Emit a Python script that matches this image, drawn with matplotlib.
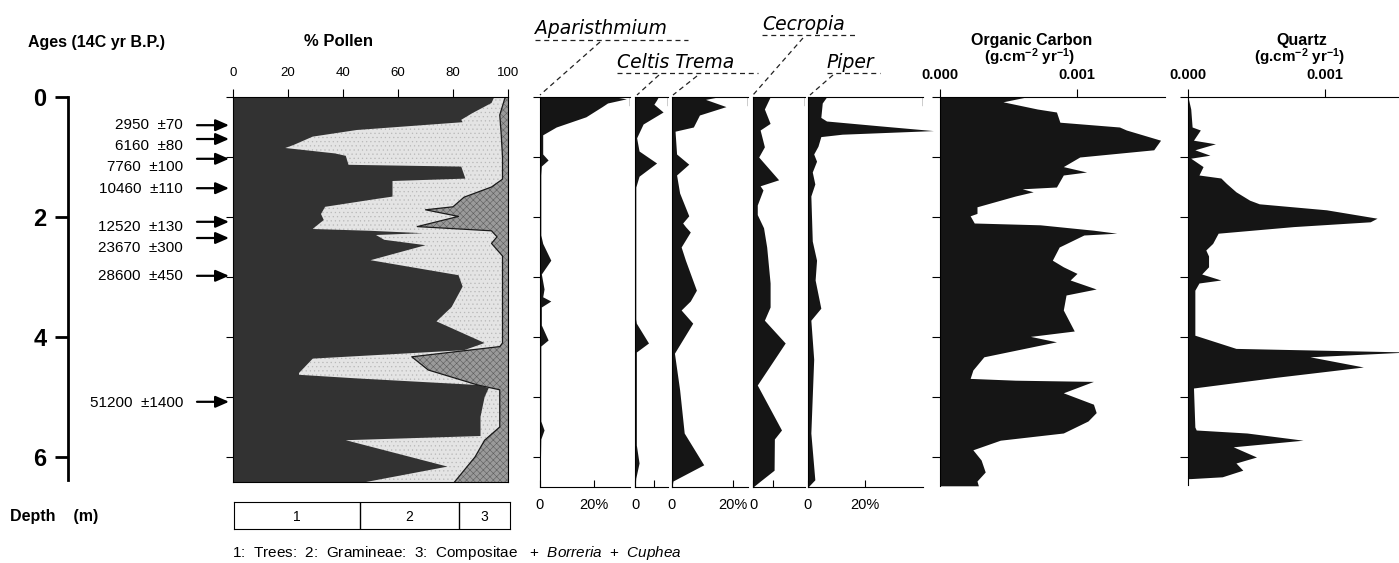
import matplotlib
matplotlib.use("Agg")
import matplotlib.pyplot as plt
from matplotlib.lines import Line2D
from matplotlib.ticker import FuncFormatter

plt.rcParams["font.family"] = ["Liberation Sans", "DejaVu Sans"]
plt.rcParams["mathtext.fontset"] = "custom"
plt.rcParams["mathtext.rm"] = "Liberation Sans:bold"
plt.rcParams["mathtext.it"] = "Liberation Sans:italic"
plt.rcParams["hatch.linewidth"] = 0.4

# ---- data ----
depth_ticks = [0, 2, 4, 6]
meter_ticks = [0, 1, 2, 3, 4, 5, 6]

age_labels = ["2950  ±70", "6160  ±80", "7760  ±100", "10460  ±110",
              "12520  ±130", "23670  ±300", "28600  ±450", "51200  ±1400"]
age_label_depth = [0.47, 0.82, 1.16, 1.53, 2.16, 2.52, 2.99, 5.1]
age_arrow_depth = [0.47, 0.7, 1.03, 1.52, 2.08, 2.35, 2.98, 5.08]

pollen_ticks = [0, 20, 40, 60, 80, 100]

# cumulative pollen %: trees, trees + gramineae (rest up to 100 = compositae etc.)
tree_depth = [0.0, 0.1, 0.27, 0.38, 0.42, 0.55, 0.66, 0.8, 0.85, 0.94, 0.98, 1.13,
              1.16, 1.36, 1.4, 1.66, 1.7, 1.83, 1.95, 2.05, 2.16, 2.2, 2.23, 2.27,
              2.3, 2.38, 2.47, 2.72, 2.97, 3.16, 3.5, 3.74, 4.1, 4.22, 4.36, 4.6,
              4.63, 4.69, 4.8, 4.85, 5.0, 5.33, 5.65, 5.72, 6.16, 6.42]
tree_pct = [95, 94, 87, 83, 83.5, 45, 29, 22, 19, 37, 41, 42,
            83, 84.5, 58, 58, 52, 33.5, 32, 33, 30, 29, 50, 69,
            52, 55, 70, 50, 82, 83.5, 79.5, 74, 91.5, 84, 29, 24,
            24, 45, 89, 93, 91.5, 90, 90, 41, 78, 48]
tg_depth = [0.0, 0.3, 0.6, 1.0, 1.37, 1.5, 1.67, 1.83, 1.88, 1.99, 2.16, 2.23, 2.33,
            2.44, 2.65, 4.1, 4.16, 4.33, 4.55, 4.8, 4.88, 5.5, 5.72, 6.0, 6.42]
tg_pct = [99, 97, 97.5, 98, 98, 94, 84, 80, 70, 82, 67, 94, 96,
          94, 98, 98, 97, 65, 71, 89, 97, 97, 91.5, 88, 80.5]

legend_keys = ["1", "2", "3"]
legend_bounds = [0, 45.5, 81.5, 100]

apar_depth = [0.0, 0.03, 0.1, 0.16, 0.33, 0.5, 0.63, 0.83, 0.95, 1.05, 1.15, 1.3, 2.3,
              2.44, 2.72, 2.95, 3.2, 3.33, 3.4, 3.5, 3.8, 4.05, 4.15, 5.4, 5.55, 5.7, 6.5]
apar_pct = [28, 32, 25, 23, 17, 6, 1, 1, 1, 3, 0.5, 0.3, 0.3,
            1, 4, 0.5, 1.5, 1, 4, 0.5, 0.5, 3, 0.3, 0.3, 1.5, 0.3, 0]

celtis_depth = [0.0, 0.05, 0.12, 0.25, 0.45, 0.68, 0.9, 1.1, 1.32, 1.5, 3.7, 3.77,
                4.1, 4.25, 5.8, 6.1, 6.35, 6.5]
celtis_pct = [8.6, 8, 7, 10.4, 3, 0.6, 1.5, 8, 1.5, 0.3, 0.3, 0.5,
              5, 0.5, 0.5, 1.5, 0.3, 0]

trema_depth = [0.0, 0.04, 0.16, 0.3, 0.5, 0.57, 0.95, 1.12, 1.3, 1.6, 1.98, 2.1, 2.16,
               2.25, 2.5, 2.72, 3.22, 3.4, 3.55, 3.77, 4.27, 4.88, 5.6, 6.13, 6.4, 6.5]
trema_pct = [15, 11, 17.7, 9, 7, 1, 1.5, 5.5, 1.5, 2.5, 5.5, 3.5, 4.4,
             6, 3, 4.4, 8, 6, 3, 6.8, 0.8, 2.5, 4, 10.4, 0.3, 0]

cecropia_depth = [0.0, 0.2, 0.44, 0.55, 0.83, 1.0, 1.38, 1.48, 1.55, 1.8, 1.96, 2.18,
                  2.5, 3.1, 3.5, 3.72, 4.1, 4.8, 5.55, 5.7, 6.22, 6.4, 6.5]
cecropia_pct = [6, 4, 6, 2.5, 4, 2, 9, 2.5, 3.5, 1.5, 1.5, 3.7,
                4.8, 6, 6, 4, 11.3, 1.5, 10, 7.5, 7.4, 2.6, 0]

piper_depth = [0.0, 0.1, 0.34, 0.4, 0.48, 0.56, 0.62, 0.66, 0.82, 0.95, 1.07, 1.25,
               1.45, 1.65, 2.4, 2.72, 3.05, 3.52, 3.72, 4.37, 5.6, 6.38, 6.5]
piper_pct = [6.5, 5, 4.5, 6.5, 25, 44, 12, 4.5, 3.5, 2, 3, 1.5,
             2.4, 1, 1.5, 3, 2.5, 4.5, 1, 2, 1, 2.4, 0]

# organic carbon and quartz flux, in 1e-3 g.cm-2 yr-1
oc_depth = [0.0, 0.08, 0.2, 0.25, 0.42, 0.5, 0.55, 0.72, 0.88, 1.0, 1.16, 1.25, 1.3,
            1.5, 1.53, 1.58, 1.65, 1.83, 1.94, 1.98, 2.1, 2.13, 2.22, 2.27, 2.3, 2.5,
            2.72, 2.83, 2.94, 3.05, 3.2, 3.3, 3.55, 3.9, 3.99, 4.08, 4.33, 4.55, 4.69,
            4.72, 4.74, 4.93, 5.12, 5.26, 5.4, 5.6, 5.72, 5.88, 6.05, 6.25, 6.4, 6.48]
oc_e3 = [0.63, 0.46, 0.71, 0.85, 0.875, 1.31, 1.36, 1.61, 1.56, 1.02, 0.9, 1.07, 0.9,
         0.85, 0.6, 0.68, 0.55, 0.27, 0.27, 0.22, 0.25, 0.73, 1.12, 1.29, 1.05, 0.87,
         0.82, 0.9, 1.0, 0.95, 1.14, 0.92, 0.9, 0.98, 0.66, 0.85, 0.32, 0.24, 0.22,
         0.55, 1.12, 0.9, 1.12, 1.14, 1.08, 0.9, 0.44, 0.24, 0.3, 0.33, 0.27, 0.28]

qz_depth = [0.0, 0.2, 0.5, 0.55, 0.72, 0.78, 0.88, 0.97, 1.02, 1.16, 1.3, 1.35, 1.44,
            1.58, 1.72, 1.78, 1.88, 2.02, 2.08, 2.16, 2.27, 2.44, 2.55, 2.65, 2.83,
            2.95, 3.05, 3.1, 3.22, 3.97, 4.19, 4.25, 4.33, 4.5, 4.67, 4.85, 5.5, 5.55,
            5.6, 5.72, 5.83, 6.0, 6.1, 6.22, 6.33, 6.36]
qz_e3 = [0.0, 0.02, 0.03, 0.09, 0.04, 0.2, 0.05, 0.16, 0.02, 0.11, 0.08, 0.24, 0.28,
         0.35, 0.45, 0.52, 1.01, 1.38, 1.33, 0.77, 0.22, 0.18, 0.13, 0.15, 0.15,
         0.1, 0.24, 0.08, 0.05, 0.05, 0.35, 1.61, 0.89, 1.28, 0.65, 0.04, 0.05, 0.06,
         0.43, 0.84, 0.33, 0.5, 0.35, 0.4, 0.25, 0.02]

# ---- layout helpers (pixel positions of the original page) ----
W, H = 1399, 563
TOP = 97   # pixel row of depth 0
PPM = 60   # pixels per metre

fig = plt.figure(figsize=(W / 100, H / 100), dpi=100)


def px_axes(x0, x1, y0, y1):
    return fig.add_axes([x0 / W, 1 - y1 / H, (x1 - x0) / W, (y1 - y0) / H])


def depth_axes(x0, x1, dmax):
    ax = px_axes(x0, x1, TOP, TOP + PPM * dmax)
    ax.set_ylim(dmax, 0)
    ax.patch.set_visible(False)
    return ax


def ftext(x, y, s, **kw):
    fig.text(x / W, 1 - y / H, s, **kw)


def fline(xs, ys, **kw):
    fig.add_artist(Line2D([x / W for x in xs], [1 - y / H for y in ys],
                          transform=fig.transFigure, **kw))


# depth scale
ax = depth_axes(68, 70, 6.38)
ax.set_xticks([])
ax.set_yticks(depth_ticks)
ax.set_yticklabels([str(v) for v in depth_ticks], fontsize=17, fontweight="bold")
for s in ("top", "right", "bottom"):
    ax.spines[s].set_visible(False)
ax.spines["left"].set_linewidth(2.0)
ax.tick_params(axis="y", length=9.5, width=2.0, pad=6)

# radiocarbon ages
ax = depth_axes(0, 232, 6.42)
ax.set_xlim(0, 232)
ax.axis("off")
for lab, dl, da in zip(age_labels, age_label_depth, age_arrow_depth):
    ax.text(183, dl, lab, ha="right", va="center", fontsize=11)
    ax.annotate("", xy=(229, da), xytext=(197, da),
                arrowprops=dict(arrowstyle="-|>,head_length=0.8,head_width=0.35",
                                color="black", lw=1.6, shrinkA=0, shrinkB=0))

# pollen percentages
ax = depth_axes(233, 508, 6.42)
ax.patch.set_visible(True)
ax.set_xlim(0, 100)
ax.fill_betweenx([0, 6.42], 0, 100, facecolor="#9a9a9a", edgecolor="#5e5e5e",
                 hatch="xxxxx", lw=0)
ax.fill_betweenx(tg_depth, 0, tg_pct, facecolor="#e4e4e4", edgecolor="#b8b8b8",
                 hatch="....", lw=0)
ax.plot(tg_pct, tg_depth, color="#1a1a1a", lw=0.9)
ax.fill_betweenx(tree_depth, 0, tree_pct, facecolor="#323232", lw=0)
ax.xaxis.tick_top()
ax.set_xticks(pollen_ticks)
ax.tick_params(axis="x", direction="out", length=6, pad=7, labelsize=9.5)
ax.set_yticks(meter_ticks)
ax.set_yticklabels([])
ax.tick_params(axis="y", direction="out", length=5)

# key below the pollen diagram
axk = px_axes(234, 510, 502, 529)
axk.set_xlim(0, 100)
axk.set_ylim(0, 1)
axk.set_xticks([])
axk.set_yticks([])
for b in legend_bounds[1:-1]:
    axk.axvline(b, color="black", lw=1)
for k, a, b in zip(legend_keys, legend_bounds[:-1], legend_bounds[1:]):
    axk.text((a + b) / 2, 0.45, k, ha="center", va="center", fontsize=10)

# individual taxa
taxa = [
    (apar_depth, apar_pct, 540, 630, 2.7, [0, 20], ["0", "20%"], True),
    (celtis_depth, celtis_pct, 635, 668, 2.7, [0, 7], ["0", ""], False),
    (trema_depth, trema_pct, 672, 748, 3.05, [0, 20], ["0", "20%"], False),
    (cecropia_depth, cecropia_pct, 753, 805, 2.85, [0, 7], ["0", ""], False),
    (piper_depth, piper_pct, 808, 923, 2.85, [0, 20], ["0", "20%"], False),
]
for d, v, x0, x1, scale, ticks, labels, left_ticks in taxa:
    ax = depth_axes(x0, x1, 6.5)
    xmax = (x1 - x0) / scale
    ax.set_xlim(0, xmax)
    poly = ax.fill_betweenx(d, 0, v, color="#151515", lw=0)
    poly.set_clip_on(False)
    ax.spines["right"].set_visible(False)
    ax.axvline(xmax, ymin=1 - 0.13 / 6.5, ymax=1, color="black", lw=1)
    ax.set_xticks(ticks)
    ax.set_xticklabels(labels)
    ax.tick_params(axis="x", direction="in", length=5, pad=8, labelsize=10.5)
    if left_ticks:
        ax.set_yticks(meter_ticks)
        ax.set_yticklabels([])
        ax.tick_params(axis="y", direction="out", length=5)
    else:
        ax.set_yticks([])

# taxon names with dashed underlines and leaders
title_kw = dict(fontsize=13.5, style="italic", family="DejaVu Sans", va="center")
ftext(535, 28, "Aparisthmium", **title_kw)
ftext(617, 62, "Celtis Trema", **title_kw)
ftext(762, 24, "Cecropia", **title_kw)
ftext(827, 62, "Piper", **title_kw)
dash = dict(color="#222222", lw=0.9, ls=(0, (4, 3)))
fline([535, 688], [40, 40], **dash)
fline([617, 758], [73, 73], **dash)
fline([762, 857], [35, 35], **dash)
fline([827, 880], [73, 73], **dash)
fline([600, 540], [42, 95], **dash)
fline([659, 637], [75, 95], **dash)
fline([697, 673], [76, 95], **dash)
fline([803, 753], [38, 95], **dash)
fline([833, 810], [75, 95], **dash)

# flux panels
fmt = FuncFormatter(lambda v, p: f"{v * 1e-3:.3f}")
for d, v, x0, x1, dmax in [(oc_depth, oc_e3, 940, 1165, 6.48),
                           (qz_depth, qz_e3, 1188, 1399, 6.47)]:
    ax = depth_axes(x0, x1, dmax)
    ax.set_xlim(0, (x1 - x0) / 137)
    ax.fill_betweenx(d, 0, v, color="#151515", lw=0)
    ax.spines["right"].set_visible(False)
    ax.spines["bottom"].set_visible(False)
    ax.xaxis.tick_top()
    ax.set_xticks([0, 1])
    ax.xaxis.set_major_formatter(fmt)
    ax.tick_params(axis="x", direction="out", length=6, pad=5, labelsize=10.5)
    plt.setp(ax.get_xticklabels(), fontweight="bold")
    ax.set_yticks(meter_ticks)
    ax.set_yticklabels([])
    ax.tick_params(axis="y", direction="out", length=6)

# headings
bold = dict(fontweight="bold", ha="center", va="center")
ftext(97, 42, "Ages (14C yr B.P.)", fontsize=11.5, **bold)
ftext(338, 42, "% Pollen", fontsize=12, **bold)
ftext(1032, 40, "Organic Carbon", fontsize=11.5, **bold)
ftext(1030, 57, r"(g.cm$^{-2}$ yr$^{-1}$)", fontsize=11, **bold)
ftext(1302, 40, "Quartz", fontsize=11.5, **bold)
ftext(1300, 57, r"(g.cm$^{-2}$ yr$^{-1}$)", fontsize=11, **bold)
ftext(10, 517, "Depth    (m)", fontsize=11.5, fontweight="bold", ha="left", va="center")
ftext(232, 553, "1:  Trees:  2:  Gramineae:  3:  Compositae   +  $\\mathit{Borreria}$  +  $\\mathit{Cuphea}$",
      fontsize=11, ha="left", va="center")

fig.savefig("out.png", dpi=100)
